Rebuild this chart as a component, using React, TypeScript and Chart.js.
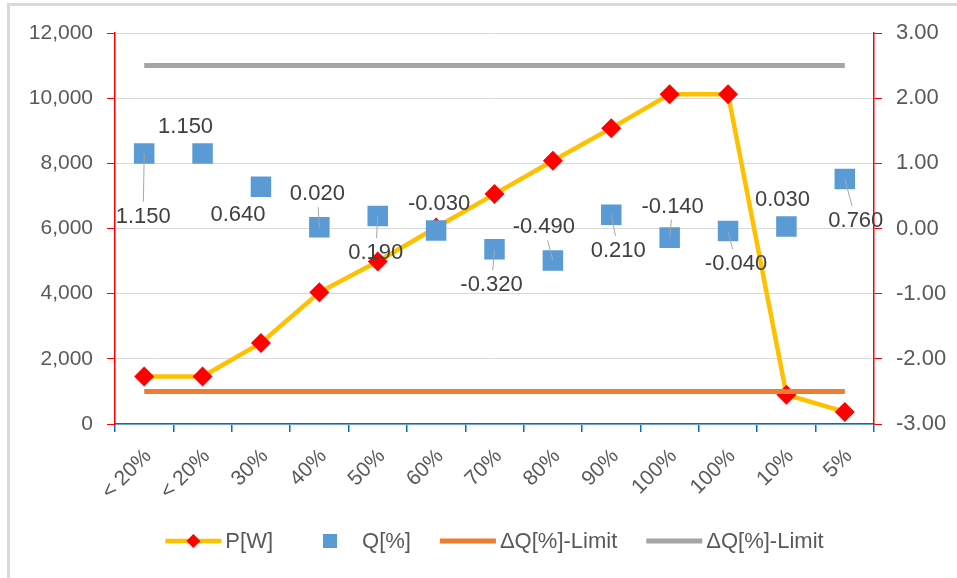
import React, { useEffect, useRef } from 'react';
import { Chart, registerables } from 'chart.js';

Chart.register(...registerables);

// ---- Data ----
const categories = ['< 20%', '< 20%', '30%', '40%', '50%', '60%', '70%', '80%', '90%', '100%', '100%', '10%', '5%'];
const powerW = [1460, 1460, 2485, 4040, 4990, 6030, 7055, 8080, 9080, 10120, 10120, 900, 370];
const qPercent = [1.15, 1.15, 0.64, 0.02, 0.19, -0.03, -0.32, -0.49, 0.21, -0.14, -0.04, 0.03, 0.76];
const dqLimitLow = [-2.5, -2.5, -2.5, -2.5, -2.5, -2.5, -2.5, -2.5, -2.5, -2.5, -2.5, -2.5, -2.5];
const dqLimitHigh = [2.5, 2.5, 2.5, 2.5, 2.5, 2.5, 2.5, 2.5, 2.5, 2.5, 2.5, 2.5, 2.5];
const seriesLabels = ['P[W]', 'Q[%]', 'ΔQ[%]-Limit', 'ΔQ[%]-Limit'];

// ---- Layout of the Q data labels (pixel offsets from the marker, leader line flag) ----
const qLabelOffsets: [number, number][] = [
  [-1, 62], [-17, -28], [-23, 27], [-2, -34], [-2, 36], [3, -28], [-3, 35],
  [-9, -34], [7, 35], [3, -32], [8, 32], [-4, -28], [11, 41],
];
const qLabelLeader = [true, false, false, true, true, false, true, true, true, true, true, false, true];

const FONT = '"Liberation Sans", Arial, sans-serif';
const COLORS = {
  power: '#FFC000',
  powerMarker: '#FF0000',
  q: '#5B9BD5',
  limitLow: '#ED7D31',
  limitHigh: '#A5A5A5',
  grid: '#D9D9D9',
  axisRed: '#FF0000',
  axisBlue: '#0070C0',
  tickText: '#595959',
  labelText: '#404040',
  leader: '#A6A6A6',
};

const qLabelPlugin = {
  id: 'qLabels',
  afterDatasetsDraw(chart: any) {
    const meta = chart.getDatasetMeta(1);
    const ctx = chart.ctx as CanvasRenderingContext2D;
    ctx.save();
    ctx.font = `22px ${FONT}`;
    ctx.textAlign = 'center';
    ctx.textBaseline = 'middle';
    meta.data.forEach((el: any, i: number) => {
      const px = el.x;
      const py = el.y;
      const [dx, dy] = qLabelOffsets[i];
      const lx = px + dx;
      const ly = py + dy;
      const text = qPercent[i].toFixed(3);
      const tw = ctx.measureText(text).width;
      if (qLabelLeader[i]) {
        const vx = px - lx;
        const vy = py - ly;
        const len = Math.hypot(vx, vy);
        const hw = tw / 2 + 2;
        const hh = 11;
        const t = Math.min(vx !== 0 ? hw / Math.abs(vx) : Infinity, vy !== 0 ? hh / Math.abs(vy) : Infinity);
        const sx = lx + vx * t + (vx / len) * 3;
        const sy = ly + vy * t + (vy / len) * 3;
        ctx.strokeStyle = COLORS.leader;
        ctx.lineWidth = 1;
        ctx.beginPath();
        ctx.moveTo(sx, sy);
        ctx.lineTo(px, py);
        ctx.stroke();
      }
      ctx.fillStyle = COLORS.labelText;
      ctx.fillText(text, lx, ly + 1);
    });
    ctx.restore();
  },
};

const legendPlugin = {
  id: 'customLegend',
  afterDraw(chart: any) {
    const ctx = chart.ctx as CanvasRenderingContext2D;
    const area = chart.chartArea;
    ctx.save();
    ctx.font = `22px ${FONT}`;
    ctx.textBaseline = 'middle';
    ctx.textAlign = 'left';
    const iconW = 56;
    const iconGap = 4;
    const itemGap = 29;
    const widths = seriesLabels.map((l) => iconW + iconGap + ctx.measureText(l).width);
    const total = widths.reduce((a, b) => a + b, 0) + itemGap * (widths.length - 1);
    let x = (area.left + area.right) / 2 - total / 2;
    const y = 541;
    seriesLabels.forEach((label, i) => {
      const cx = x + iconW / 2;
      if (i === 0) {
        ctx.strokeStyle = COLORS.power;
        ctx.lineWidth = 4.5;
        ctx.beginPath();
        ctx.moveTo(x, y);
        ctx.lineTo(x + iconW, y);
        ctx.stroke();
        ctx.fillStyle = COLORS.powerMarker;
        ctx.beginPath();
        ctx.moveTo(cx, y - 7);
        ctx.lineTo(cx + 7, y);
        ctx.lineTo(cx, y + 7);
        ctx.lineTo(cx - 7, y);
        ctx.closePath();
        ctx.fill();
      } else if (i === 1) {
        ctx.fillStyle = COLORS.q;
        ctx.fillRect(cx - 7, y - 7, 14, 14);
      } else {
        ctx.strokeStyle = i === 2 ? COLORS.limitLow : COLORS.limitHigh;
        ctx.lineWidth = 5;
        ctx.beginPath();
        ctx.moveTo(x, y);
        ctx.lineTo(x + iconW, y);
        ctx.stroke();
      }
      ctx.fillStyle = COLORS.tickText;
      ctx.fillText(label, x + iconW + iconGap, y + 1);
      x += widths[i] + itemGap;
    });
    ctx.restore();
  },
};

export default function App() {
  const canvasRef = useRef<HTMLCanvasElement>(null);

  useEffect(() => {
    if (!canvasRef.current) return;
    const tickFont = { family: FONT, size: 21 };
    const chart = new Chart(canvasRef.current, {
      type: 'line',
      data: {
        labels: categories,
        datasets: [
          {
            label: seriesLabels[0],
            data: powerW,
            yAxisID: 'y',
            borderColor: COLORS.power,
            backgroundColor: COLORS.power,
            borderWidth: 4.5,
            tension: 0,
            pointStyle: 'rectRot',
            pointRadius: 10,
            pointBackgroundColor: COLORS.powerMarker,
            pointBorderColor: COLORS.powerMarker,
            pointBorderWidth: 0,
            order: 3,
          },
          {
            label: seriesLabels[1],
            data: qPercent,
            yAxisID: 'y1',
            showLine: false,
            borderColor: COLORS.q,
            backgroundColor: COLORS.q,
            pointStyle: 'rect',
            pointRadius: 14.5,
            pointBackgroundColor: COLORS.q,
            pointBorderWidth: 0,
            order: 0,
          },
          {
            label: seriesLabels[2],
            data: dqLimitLow,
            yAxisID: 'y1',
            borderColor: COLORS.limitLow,
            backgroundColor: COLORS.limitLow,
            borderWidth: 5,
            pointRadius: 0,
            order: 1,
          },
          {
            label: seriesLabels[3],
            data: dqLimitHigh,
            yAxisID: 'y1',
            borderColor: COLORS.limitHigh,
            backgroundColor: COLORS.limitHigh,
            borderWidth: 5,
            pointRadius: 0,
            order: 2,
          },
        ],
      },
      options: {
        responsive: false,
        animation: false,
        devicePixelRatio: 1,
        layout: { padding: { top: 33, left: 0, right: 0, bottom: 0 } },
        plugins: {
          legend: { display: false },
          tooltip: { enabled: false },
        },
        scales: {
          x: {
            type: 'category',
            offset: true,
            grid: {
              offset: true,
              drawOnChartArea: false,
              drawTicks: true,
              tickLength: 8,
              tickColor: COLORS.axisBlue,
              color: COLORS.axisBlue,
              lineWidth: 1.5,
            },
            border: { color: COLORS.axisBlue, width: 1.5 },
            ticks: {
              autoSkip: false,
              minRotation: 45,
              maxRotation: 45,
              color: COLORS.tickText,
              font: tickFont,
              padding: 12,
              labelOffset: 4,
            },
            afterFit(scale: any) {
              scale.height = 154;
            },
          },
          y: {
            position: 'left',
            min: 0,
            max: 12000,
            ticks: {
              stepSize: 2000,
              color: COLORS.tickText,
              font: tickFont,
              padding: 14,
              callback: (v: any) => Number(v).toLocaleString('en-US'),
            },
            grid: {
              color: COLORS.grid,
              tickColor: COLORS.axisRed,
              tickLength: 8,
              lineWidth: 1,
            },
            border: { color: COLORS.axisRed, width: 1.5 },
            afterFit(scale: any) {
              scale.width = 115;
            },
          },
          y1: {
            position: 'right',
            min: -3,
            max: 3,
            ticks: {
              stepSize: 1,
              color: COLORS.tickText,
              font: { family: FONT, size: 22 },
              padding: 14,
              callback: (v: any) => Number(v).toFixed(2),
            },
            grid: {
              drawOnChartArea: false,
              tickColor: COLORS.axisRed,
              tickLength: 8,
            },
            border: { color: COLORS.axisRed, width: 1.5 },
            afterFit(scale: any) {
              scale.width = 83;
            },
          },
        },
      },
      plugins: [qLabelPlugin, legendPlugin],
    } as any);
    return () => chart.destroy();
  }, []);

  return (
    <div
      style={{
        position: 'fixed',
        left: 0,
        top: 0,
        width: 957,
        height: 578,
        overflow: 'hidden',
        background: '#ffffff',
      }}
    >
      <div
        style={{
          position: 'absolute',
          left: 7,
          top: 3,
          width: 1100,
          height: 700,
          border: '3px solid #D9D9D9',
          boxSizing: 'border-box',
        }}
      />
      <canvas
        ref={canvasRef}
        width={957}
        height={578}
        style={{ position: 'absolute', left: 0, top: 0, width: 957, height: 578 }}
      />
    </div>
  );
}
